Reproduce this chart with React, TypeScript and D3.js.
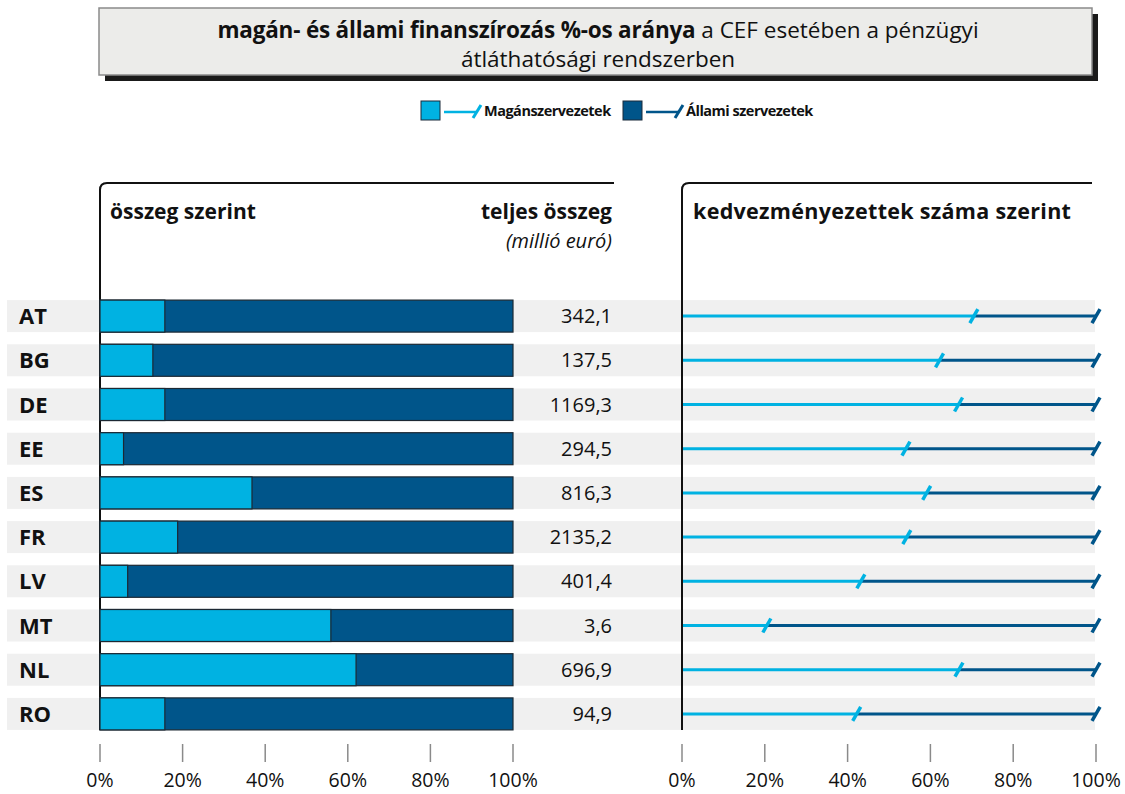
import React, { useEffect, useRef } from 'react';
import * as d3 from 'd3';

// country codes, top to bottom
const countries = ['AT', 'BG', 'DE', 'EE', 'ES', 'FR', 'LV', 'MT', 'NL', 'RO'];
// private share (%) by amount
const privateByAmount = [15.7, 12.8, 15.7, 5.7, 36.8, 18.8, 6.7, 55.9, 62.0, 15.7];
// private share (%) by number of beneficiaries
const privateByCount = [70.5, 62.2, 66.8, 54.1, 59.1, 54.3, 43.2, 20.5, 66.9, 42.2];
// total amount, million euro
const totals = [342.1, 137.5, 1169.3, 294.5, 816.3, 2135.2, 401.4, 3.6, 696.9, 94.9];
const percentTicks = [0, 20, 40, 60, 80, 100];

const LIGHT = '#00b2e2';
const DARK = '#00558a';
const FONT = '"Open Sans", "Noto Sans", sans-serif';

const App = () => {
  const svgRef = useRef<SVGSVGElement>(null);

  useEffect(() => {
    const svg = d3.select(svgRef.current);
    svg.selectAll('*').remove();

    const hu = d3.formatLocale({ decimal: ',', thousands: '', grouping: [3], currency: ['', ' €'] });
    const fmt = hu.format('.1f');

    const y = d3.scaleBand<string>()
      .domain(countries)
      .range([294, 736])
      .paddingInner(0.276)
      .paddingOuter(0.138);
    const xL = d3.scaleLinear().domain([0, 100]).range([100, 513]);
    const xR = d3.scaleLinear().domain([0, 100]).range([682, 1096]);

    // title box
    const title = svg.append('g');
    title.append('rect').attr('x', 105).attr('y', 14).attr('width', 993).attr('height', 67).attr('fill', '#1a1a1a');
    title.append('rect').attr('x', 99).attr('y', 8).attr('width', 993).attr('height', 67)
      .attr('fill', '#ececea').attr('stroke', '#8a8a8a').attr('stroke-width', 1.5);
    const t1 = title.append('text').attr('x', 598).attr('y', 38).attr('text-anchor', 'middle')
      .attr('font-family', FONT).attr('font-size', 22.5).attr('fill', '#111');
    t1.append('tspan').attr('font-weight', 700).attr('letter-spacing', -0.2).text('magán- és állami finanszírozás %-os aránya');
    t1.append('tspan').text(' a CEF esetében a pénzügyi');
    title.append('text').attr('x', 598).attr('y', 67).attr('text-anchor', 'middle')
      .attr('font-family', FONT).attr('font-size', 22.5).attr('fill', '#111')
      .text('átláthatósági rendszerben');

    // legend
    const legendItems = [
      { label: 'Magánszervezetek', color: LIGHT, x: 421 },
      { label: 'Állami szervezetek', color: DARK, x: 623 },
    ];
    const lg = svg.append('g').attr('font-family', FONT);
    legendItems.forEach(it => {
      lg.append('rect').attr('x', it.x).attr('y', 101).attr('width', 19).attr('height', 19)
        .attr('fill', it.color).attr('stroke', '#1b2b3b').attr('stroke-width', 1);
      lg.append('line').attr('x1', it.x + 23).attr('x2', it.x + 56).attr('y1', 112).attr('y2', 112)
        .attr('stroke', it.color).attr('stroke-width', 2.5);
      lg.append('line').attr('x1', it.x + 52).attr('x2', it.x + 60).attr('y1', 118).attr('y2', 105)
        .attr('stroke', it.color).attr('stroke-width', 3);
      lg.append('text').attr('x', it.x + 63).attr('y', 116).attr('font-size', 14.5).attr('font-weight', 700)
        .attr('letter-spacing', -0.5).attr('fill', '#111').text(it.label);
    });

    // row bands
    svg.append('g').selectAll('rect').data(countries).join('rect')
      .attr('x', 7).attr('width', 1088)
      .attr('y', d => y(d)!).attr('height', y.bandwidth())
      .attr('fill', '#f0f0f0');

    // frames
    const frame = (x0: number, x1: number) => {
      svg.append('path')
        .attr('d', `M${x0},${y(countries[countries.length - 1])! + y.bandwidth()} V190 Q${x0},183 ${x0 + 7},183 H${x1}`)
        .attr('fill', 'none').attr('stroke', '#111').attr('stroke-width', 2);
    };
    frame(xL(0), 614);
    frame(xR(0), 1092);

    // headers
    const hdr = svg.append('g').attr('font-family', FONT).attr('fill', '#111');
    hdr.append('text').attr('x', 110).attr('y', 219).attr('font-size', 21).attr('font-weight', 700).text('összeg szerint');
    hdr.append('text').attr('x', 612).attr('y', 219).attr('font-size', 21).attr('font-weight', 700)
      .attr('text-anchor', 'end').text('teljes összeg');
    hdr.append('text').attr('x', 612).attr('y', 248).attr('font-size', 20).attr('font-style', 'italic')
      .attr('text-anchor', 'end').text('(millió euró)');
    hdr.append('text').attr('x', 693).attr('y', 219).attr('font-size', 21.5).attr('font-weight', 700)
      .attr('letter-spacing', 0.3).text('kedvezményezettek száma szerint');

    // row labels
    svg.append('g').selectAll('text').data(countries).join('text')
      .attr('x', 19).attr('y', d => y(d)! + y.bandwidth() / 2 + 8)
      .attr('font-family', FONT).attr('font-size', 22).attr('font-weight', 700).attr('fill', '#111')
      .text(d => d);

    // stacked bars (left)
    const rows = countries.map((c, i) => ({ c, p: privateByAmount[i], q: privateByCount[i], total: totals[i] }));
    const bars = svg.append('g');
    bars.selectAll('rect.pub').data(rows).join('rect').attr('class', 'pub')
      .attr('x', xL(0)).attr('width', xL(100) - xL(0))
      .attr('y', d => y(d.c)!).attr('height', y.bandwidth())
      .attr('fill', DARK).attr('stroke', '#1c2833').attr('stroke-width', 1.2);
    bars.selectAll('rect.priv').data(rows).join('rect').attr('class', 'priv')
      .attr('x', xL(0)).attr('width', d => xL(d.p) - xL(0))
      .attr('y', d => y(d.c)!).attr('height', y.bandwidth())
      .attr('fill', LIGHT).attr('stroke', '#1c2833').attr('stroke-width', 1.2);

    // totals
    svg.append('g').selectAll('text').data(rows).join('text')
      .attr('x', 612).attr('y', d => y(d.c)! + y.bandwidth() / 2 + 7)
      .attr('text-anchor', 'end').attr('font-family', FONT).attr('font-size', 20).attr('fill', '#111')
      .text(d => fmt(d.total));

    // lines (right)
    const lines = svg.append('g');
    const cy = (c: string) => y(c)! + y.bandwidth() / 2;
    lines.selectAll('line.priv').data(rows).join('line').attr('class', 'priv')
      .attr('x1', xR(0) + 1).attr('x2', d => xR(d.q)).attr('y1', d => cy(d.c)).attr('y2', d => cy(d.c))
      .attr('stroke', LIGHT).attr('stroke-width', 3);
    lines.selectAll('line.pub').data(rows).join('line').attr('class', 'pub')
      .attr('x1', d => xR(d.q)).attr('x2', xR(100)).attr('y1', d => cy(d.c)).attr('y2', d => cy(d.c))
      .attr('stroke', DARK).attr('stroke-width', 3);
    lines.selectAll('line.mpub').data(rows).join('line').attr('class', 'mpub')
      .attr('x1', xR(100) - 4).attr('x2', xR(100) + 4).attr('y1', d => cy(d.c) + 7).attr('y2', d => cy(d.c) - 7)
      .attr('stroke', DARK).attr('stroke-width', 3.5);
    lines.selectAll('line.mpriv').data(rows).join('line').attr('class', 'mpriv')
      .attr('x1', d => xR(d.q) - 4).attr('x2', d => xR(d.q) + 4).attr('y1', d => cy(d.c) + 7).attr('y2', d => cy(d.c) - 7)
      .attr('stroke', LIGHT).attr('stroke-width', 3.5);

    // axes
    const axis = (x: d3.ScaleLinear<number, number>) => {
      const g = svg.append('g');
      g.selectAll('line').data(percentTicks).join('line')
        .attr('x1', d => x(d)).attr('x2', d => x(d)).attr('y1', 744).attr('y2', 762)
        .attr('stroke', '#8a8a8a').attr('stroke-width', 1.5);
      g.selectAll('text').data(percentTicks).join('text')
        .attr('x', d => x(d)).attr('y', 787).attr('text-anchor', 'middle')
        .attr('font-family', FONT).attr('font-size', 19.5).attr('fill', '#111')
        .text(d => `${d}%`);
    };
    axis(xL);
    axis(xR);
  }, []);

  return (
    <svg ref={svgRef} width={1125} height={794}
      style={{ position: 'absolute', left: 0, top: 0, background: '#fff' }} />
  );
};

export default App;
